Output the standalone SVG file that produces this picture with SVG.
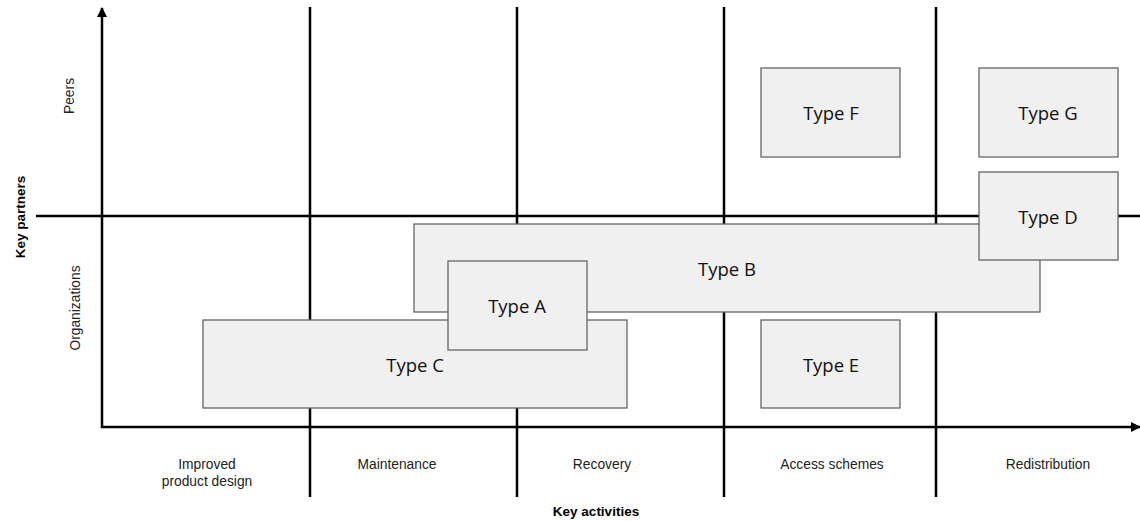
<svg xmlns="http://www.w3.org/2000/svg" width="1140" height="521" viewBox="0 0 1140 521">
<style>
.ax{stroke:#000;stroke-width:2.5;fill:none}
.box{fill:#f0f0f0;stroke:#666;stroke-width:1.3}
.tl{font-family:"Open Sans","Liberation Sans",sans-serif;font-size:18.5px;fill:#111;text-anchor:middle;dominant-baseline:central}
.cat{font-family:"Liberation Sans",Arial,sans-serif;font-size:13.8px;fill:#222;text-anchor:middle}
.key{font-family:"Liberation Sans",Arial,sans-serif;font-size:13.5px;font-weight:bold;fill:#000;text-anchor:middle}
</style>
<defs>
<marker id="ah" viewBox="0 0 10 10" refX="9" refY="5" markerWidth="4" markerHeight="4" orient="auto" markerUnits="strokeWidth">
<path d="M0,0 L10,5 L0,10 z" fill="#000"/>
</marker>
</defs>
<rect width="1140" height="521" fill="#fff"/>
<g id="connectors">
<line class="ax" x1="102" y1="428" x2="102" y2="8" marker-end="url(#ah)"/>
<line class="ax" x1="101" y1="427" x2="1140" y2="427" marker-end="url(#ah)"/>
<line class="ax" x1="36" y1="216" x2="1140" y2="216"/>
<line class="ax" x1="310" y1="7" x2="310" y2="497"/>
<line class="ax" x1="517" y1="7" x2="517" y2="497"/>
<line class="ax" x1="724" y1="7" x2="724" y2="497"/>
<line class="ax" x1="936" y1="7" x2="936" y2="497"/>
</g>
<g id="typeF"><rect class="box" x="761" y="68" width="139" height="89"/><text class="tl" x="831" y="112">Type F</text></g>
<g id="typeG"><rect class="box" x="979" y="68" width="139" height="89"/><text class="tl" x="1048" y="112">Type G</text></g>
<g id="typeC"><rect class="box" x="203" y="320" width="424" height="88"/><text class="tl" x="415" y="364">Type C</text></g>
<g id="typeE"><rect class="box" x="761" y="320" width="139" height="88"/><text class="tl" x="831" y="364">Type E</text></g>
<g id="typeB"><rect class="box" x="414" y="224" width="626" height="88"/><text class="tl" x="727" y="268">Type B</text></g>
<g id="typeA"><rect class="box" x="448" y="261" width="139" height="89"/><text class="tl" x="517" y="305">Type A</text></g>
<g id="typeD"><rect class="box" x="979" y="172" width="139" height="88"/><text class="tl" x="1048" y="216">Type D</text></g>
<g id="labels">
<text class="cat" x="207" y="469">Improved</text>
<text class="cat" x="207" y="486">product design</text>
<text class="cat" x="397" y="469">Maintenance</text>
<text class="cat" x="602" y="469">Recovery</text>
<text class="cat" x="832" y="469">Access schemes</text>
<text class="cat" x="1048" y="469">Redistribution</text>
<text class="key" x="596" y="516">Key activities</text>
<text class="key" transform="translate(25,217) rotate(-90)">Key partners</text>
<text class="cat" transform="translate(74,96) rotate(-90)">Peers</text>
<text class="cat" transform="translate(80,308) rotate(-90)">Organizations</text>
</g>
</svg>
